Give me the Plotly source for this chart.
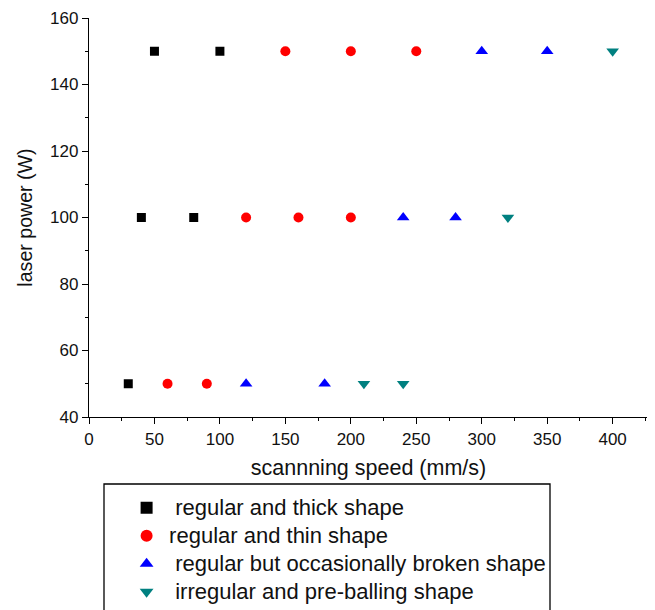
import plotly.graph_objects as go

# Data
thick_speed = [50, 100, 40, 80, 30]
thick_power = [150, 150, 100, 100, 50]

thin_speed = [150, 200, 250, 120, 160, 200, 60, 90]
thin_power = [150, 150, 150, 100, 100, 100, 50, 50]

broken_speed = [300, 350, 240, 280, 120, 180]
broken_power = [150, 150, 100, 100, 50, 50]

balling_speed = [400, 320, 210, 240]
balling_power = [150, 100, 50, 50]

names = [
    " regular and thick shape",
    "regular and thin shape",
    " regular but occasionally broken shape",
    " irregular and pre-balling shape",
]

FONT = "Liberation Sans, Arial, Helvetica, sans-serif"

fig = go.Figure()
series = [
    (thick_speed, thick_power, names[0], "square", "#000000", 9),
    (thin_speed, thin_power, names[1], "circle", "#FF0000", 10),
    (broken_speed, broken_power, names[2], "triangle-up", "#0000FF", 11),
    (balling_speed, balling_power, names[3], "triangle-down", "#008080", 11),
]
for xs, ys, nm, sym, col, sz in series:
    fig.add_trace(go.Scatter(
        x=xs, y=ys, mode="markers", name='<span style="font-size:22px">' + nm + '</span>',
        marker=dict(symbol=sym, color=col, size=sz, line=dict(width=0)),
    ))

axis_common = dict(
    showgrid=False, zeroline=False, showline=True, linecolor="black", linewidth=1.3,
    ticks="outside", ticklen=6, tickwidth=1.3, tickcolor="black",
    tickfont=dict(family=FONT, size=17, color="#111"),
    mirror=False,
)

fig.update_xaxes(
    range=[0, 427], tick0=0, dtick=50,
    minor=dict(ticks="outside", ticklen=3, dtick=25, tick0=0, tickcolor="black", tickwidth=1.3),
    title=dict(text="scannning speed (mm/s)", font=dict(family=FONT, size=21.5, color="#111"), standoff=12),
    **axis_common,
)
fig.update_yaxes(
    range=[40, 160], tick0=40, dtick=20,
    minor=dict(ticks="outside", ticklen=3, dtick=10, tick0=40, tickcolor="black", tickwidth=1.3),
    title=dict(text="laser power (W)", font=dict(family=FONT, size=19.6, color="#111"), standoff=12),
    **axis_common,
)

# page body has an 8px margin; figure is sized to fit the 655x610 window
fig.update_layout(
    width=647, height=602,
    margin=dict(l=81, r=7, t=10, b=193, autoexpand=False),
    paper_bgcolor="white", plot_bgcolor="white",
    font=dict(family=FONT, color="#111"),
    showlegend=True,
    legend=dict(
        x=0.0628, y=-0.18, xanchor="left", yanchor="top",
        font=dict(family=FONT, size=19.2, color="#111"),
        bgcolor="rgba(0,0,0,0)", borderwidth=0,
        itemsizing="constant", itemwidth=35,
    ),
    shapes=[dict(
        type="rect", xref="paper", yref="paper",
        x0=(104 - 89) / 559, x1=(550 - 89) / 559,
        y0=(417 - 484) / 399, y1=(417 - 640) / 399,
        line=dict(color="black", width=1.3), fillcolor="rgba(0,0,0,0)",
    )],
)

fig.write_html("out.html")
